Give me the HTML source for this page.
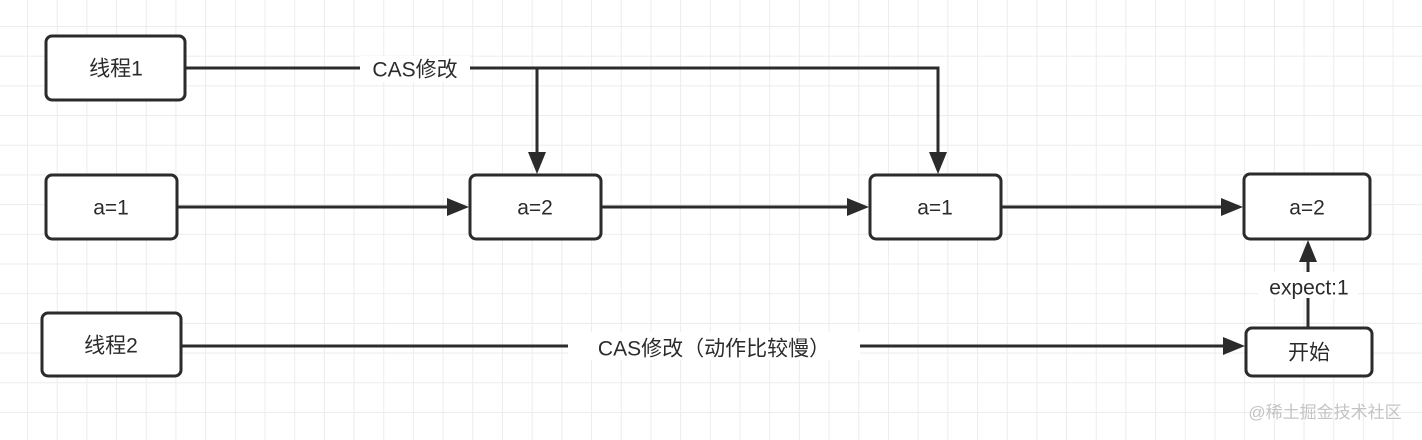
<!DOCTYPE html>
<html><head><meta charset="utf-8"><style>
body{margin:0;width:1422px;height:440px;overflow:hidden;background:#fff;
background-image:linear-gradient(#ececec 1px,transparent 1px),linear-gradient(90deg,#ececec 1px,transparent 1px);
background-size:29.7px 29.7px;background-position:27px 26px;font-family:"Liberation Sans","Noto Sans CJK SC",sans-serif;}
</style></head><body>
<svg width="1422" height="440" style="position:absolute;left:0;top:0" font-family="Liberation Sans, Noto Sans CJK SC, sans-serif">
<defs><marker id="a" markerWidth="10" markerHeight="10" refX="9" refY="5" orient="auto" markerUnits="userSpaceOnUse"><path d="M0,0 L0,0" /></marker></defs>
<g stroke="#2b2b2b" stroke-width="3" fill="none">
<path d="M185 68 H938 V152"/>
<path d="M537 68 V152"/>
<path d="M177 207 H447"/>
<path d="M601 207 H847"/>
<path d="M1001 207 H1221"/>
<path d="M181 346 H1223"/>
<path d="M1308 327 V262"/>
</g>
<g fill="#2b2b2b">
<path d="M528 152 L546 152 L537 174 Z"/>
<path d="M929 152 L947 152 L938 174 Z"/>
<path d="M447 198 L469 207 L447 216 Z"/>
<path d="M847 198 L869 207 L847 216 Z"/>
<path d="M1221 198 L1243 207 L1221 216 Z"/>
<path d="M1223 337 L1245 346 L1223 355 Z"/>
<path d="M1299 262 L1317 262 L1308 240 Z"/>
</g>
<g fill="#fff" stroke="#2b2b2b" stroke-width="3">
<rect x="46" y="36" width="139" height="64" rx="6"/>
<rect x="46" y="175" width="131" height="64" rx="6"/>
<rect x="470" y="175" width="131" height="64" rx="6"/>
<rect x="870" y="175" width="131" height="64" rx="6"/>
<rect x="1244" y="174" width="126" height="65" rx="6"/>
<rect x="42" y="313" width="139" height="63" rx="6"/>
<rect x="1246" y="328" width="126" height="48" rx="6"/>
</g>
<rect x="360" y="56" width="110" height="26" fill="#fff"/>
<rect x="568" y="332" width="292" height="28" fill="#fff"/>
<rect x="1258" y="272" width="100" height="26" fill="#fff"/>
<g fill="#2b2b2b" font-size="21" text-anchor="middle" dominant-baseline="central">
<text x="116" y="69">线程1</text>
<text x="111" y="208">a=1</text>
<text x="535" y="208">a=2</text>
<text x="935" y="208">a=1</text>
<text x="1307" y="208">a=2</text>
<text x="111" y="346">线程2</text>
<text x="1309" y="353">开始</text>
<text x="415" y="70">CAS修改</text>
<text x="714" y="349">CAS修改（动作比较慢）</text>
<text x="1309" y="288">expect:1</text>
</g>
<text x="1325" y="418" font-size="17" fill="#c4c4c4" text-anchor="middle">@稀土掘金技术社区</text>
</svg>
</body></html>
